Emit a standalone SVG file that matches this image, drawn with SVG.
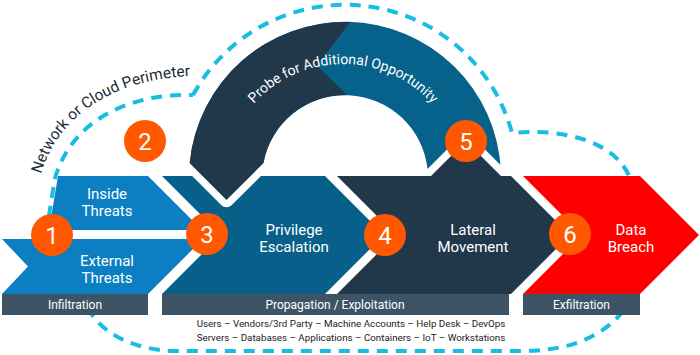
<svg xmlns="http://www.w3.org/2000/svg" width="700" height="355" viewBox="0 0 700 355">
<style>
.lbl{font-family:Roboto,"Liberation Sans",sans-serif;font-size:15px;fill:#fff;text-anchor:middle}
.bar{fill:#3d5466}
.bartxt{font-family:Roboto,"Liberation Sans",sans-serif;font-size:12px;fill:#fff;text-anchor:middle}
.num circle{fill:#ff5800}
.num text{font-family:Roboto,"Liberation Sans",sans-serif;font-size:24px;fill:#fff;text-anchor:middle}
.dash{fill:none;stroke:#17bde3;stroke-width:4;stroke-dasharray:11 8}
.gap{stroke:#fff;stroke-width:15;paint-order:stroke;stroke-linejoin:round}
.small{font-family:Roboto,"Liberation Sans",sans-serif;font-size:9.8px;fill:#222;text-anchor:middle}
.curve{font-family:Roboto,"Liberation Sans",sans-serif}
</style>
<defs>
<path id="perimText" d="M 41 174 C 58 116, 113 79, 192 76"/>
<path id="probeText" d="M 223 184 A 120 120 0 0 1 463 184"/>
</defs>
<rect width="700" height="355" fill="#fff"/>
<g id="connectors">
<path id="perimeter" class="dash" d="M 193 95 A 173 173 0 0 1 512 133 C 560 128, 615 140, 630 178 C 650 230, 645 290, 617 318 C 595 340, 565 351, 520 351 L 175 351 C 135 350, 105 335, 90 312 C 70 285, 45 260, 47 228 L 55 178 C 72 120, 130 93, 193 95"/>
<text class="curve" font-size="15.5" fill="#1d2b36"><textPath href="#perimText">Network or Cloud Perimeter</textPath></text>
</g>
<g id="stage-infiltration">
<polygon points="58,176 148,176 202,230 49,230" fill="#0b7fc2"/>
<polygon points="2,239 203,239 148,294 2,294 28,266.5" fill="#0b7fc2"/>
<text class="lbl" x="107" y="199">Inside</text>
<text class="lbl" x="107" y="216">Threats</text>
<text class="lbl" x="107" y="266">External</text>
<text class="lbl" x="107" y="283">Threats</text>
</g>
<g id="stage-privilege">
<polygon points="162,176 325,176 384,235 325,294 162,294 221,235" fill="#08608a"/>
<text class="lbl" x="294" y="235">Privilege</text>
<text class="lbl" x="294" y="252">Escalation</text>
</g>
<g id="stage-probe">
<path class="gap" fill="#06628a" d="M 189.7 163 A 156 156 0 0 1 500.8 170 L 427.6 170 A 83 83 0 0 0 263.4 163 L 226.5 199.8 Z"/>
<path fill="#21374a" d="M 189.7 163 A 156 156 0 0 1 350 22.1 L 317 66 L 347 95 A 83 83 0 0 0 263.4 163 L 226.5 199.8 Z"/>
<text class="curve" font-size="14" fill="#fff" text-anchor="middle"><textPath href="#probeText" startOffset="50%">Probe for Additional Opportunity</textPath></text>
</g>
<g id="stage-lateral">
<polygon class="gap" points="337,176 431,176 466,141 501,176 511,176 570,235 511,294 337,294 396,235" fill="#21374a"/>
<text class="lbl" x="473" y="235">Lateral</text>
<text class="lbl" x="473" y="252">Movement</text>
</g>
<g id="stage-breach">
<polygon points="523,176 640,176 699,235 640,294 523,294 582,235" fill="#fe0000"/>
<text class="lbl" x="631" y="235">Data</text>
<text class="lbl" x="631" y="252">Breach</text>
</g>
<g id="phase-bars">
<rect class="bar" x="2" y="294" width="146" height="21"/>
<text class="bartxt" x="75" y="308.5">Infiltration</text>
<rect class="bar" x="162" y="294" width="347" height="21"/>
<text class="bartxt" x="335" y="308.5">Propagation / Exploitation</text>
<rect class="bar" x="523" y="294" width="117" height="21"/>
<text class="bartxt" x="581.5" y="308.5">Exfiltration</text>
</g>
<g id="step-1" class="num"><circle cx="52" cy="235" r="21"/><text x="52" y="243.5">1</text></g>
<g id="step-2" class="num"><circle cx="145" cy="141" r="21"/><text x="145" y="149.5">2</text></g>
<g id="step-3" class="num"><circle cx="207" cy="234" r="21"/><text x="207" y="242.5">3</text></g>
<g id="step-4" class="num"><circle cx="385" cy="235" r="21"/><text x="385" y="243.5">4</text></g>
<g id="step-5" class="num"><circle cx="466" cy="141" r="21"/><text x="466" y="149.5">5</text></g>
<g id="step-6" class="num"><circle cx="570" cy="234" r="21"/><text x="570" y="242.5">6</text></g>
<g id="targets">
<text class="small" x="351" y="327">Users – Vendors/3rd Party – Machine Accounts – Help Desk – DevOps</text>
<text class="small" x="351" y="341">Servers – Databases – Applications – Containers – IoT – Workstations</text>
</g>
</svg>
